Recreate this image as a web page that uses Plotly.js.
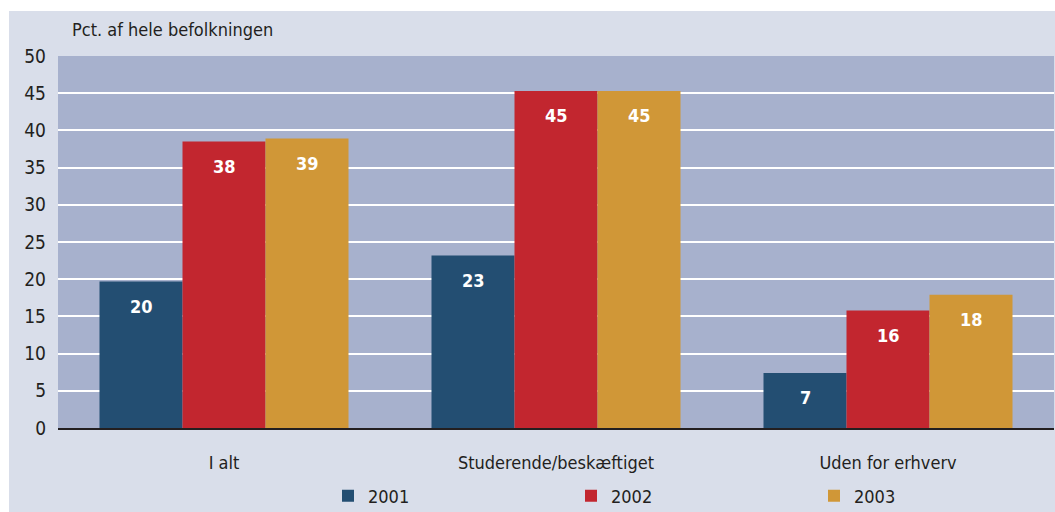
<!DOCTYPE html>
<html>
<head>
<meta charset="utf-8">
<script src="https://cdn.plot.ly/plotly-3.0.1.min.js"></script>
<style>
  html, body { margin: 0; padding: 0; background: #ffffff; }
  #chart { position: absolute; left: 9px; top: 11px; width: 1046px; height: 501px; }
</style>
</head>
<body>
<div id="chart"></div>
<script>
const categories = ["I alt", "Studerende/beskæftiget", "Uden for erhverv"];
const years = ["2001", "2002", "2003"];
const values2001 = [19.7, 23.2, 7.4];
const values2002 = [38.5, 45.3, 15.8];
const values2003 = [38.9, 45.3, 17.9];
const labels2001 = ["20", "23", "7"];
const labels2002 = ["38", "45", "16"];
const labels2003 = ["39", "45", "18"];
const yTicks = [0, 5, 10, 15, 20, 25, 30, 35, 40, 45, 50];
const colors = ["#234e72", "#c2262f", "#d09737"];

const FONT = '"Liberation Sans Narrow", "DejaVu Sans Condensed", "Roboto Condensed", Roboto, sans-serif';
const series = [values2001, values2002, values2003];
const labels = [labels2001, labels2002, labels2003];
const BARGAP = 0.25;
const barW = (1 - BARGAP) / years.length;

const traces = years.map((yr, i) => ({
  type: "bar",
  name: yr,
  x: categories,
  y: series[i],
  marker: { color: colors[i], line: { width: 0 } },
  hoverinfo: "skip"
}));

const annotations = [];
years.forEach((yr, i) => {
  categories.forEach((c, j) => {
    annotations.push({
      x: j + (i - (years.length - 1) / 2) * barW,
      y: series[i][j],
      xref: "x", yref: "y",
      text: labels[i][j],
      showarrow: false,
      yanchor: "middle",
      yshift: -25,
      font: { family: FONT, size: 18, color: "#ffffff", weight: "bold" }
    });
  });
});

const layout = {
  width: 1046,
  height: 501,
  margin: { l: 49, r: 1, t: 45, b: 84, pad: 0 },
  paper_bgcolor: "#d9deea",
  plot_bgcolor: "#a7b1cd",
  font: { family: FONT, size: 18, color: "#231f20" },
  barmode: "group",
  bargap: BARGAP,
  bargroupgap: 0,
  title: {
    text: "Pct. af hele befolkningen",
    x: 63 / 1046, xref: "container", xanchor: "left",
    y: 1 - 19 / 501, yref: "container", yanchor: "middle",
    font: { family: FONT, size: 18, color: "#231f20" }
  },
  annotations: annotations,
  xaxis: {
    type: "category",
    range: [-0.5, 2.5],
    showgrid: false,
    showline: true,
    linecolor: "#231f20",
    linewidth: 2,
    ticks: "",
    ticklabelstandoff: 17,
    tickfont: { family: FONT, size: 18, color: "#231f20" },
    fixedrange: true
  },
  yaxis: {
    range: [0, 50],
    tickvals: yTicks,
    ticktext: yTicks.map(String),
    showgrid: true,
    gridcolor: "#ffffff",
    gridwidth: 2,
    zeroline: false,
    showline: false,
    ticks: "",
    ticklabelstandoff: 11,
    tickfont: { family: FONT, size: 19, color: "#231f20" },
    fixedrange: true
  },
  showlegend: true,
  legend: {
    orientation: "h",
    xref: "container", yref: "container",
    x: (328 - 9) / 1046, xanchor: "left",
    y: 1 - (496 - 11) / 501, yanchor: "middle",
    entrywidth: 198, entrywidthmode: "pixels",
    bgcolor: "rgba(0,0,0,0)",
    font: { family: FONT, size: 18, color: "#231f20" },
    traceorder: "normal"
  }
};

Plotly.newPlot("chart", traces, layout, { displayModeBar: false, staticPlot: true });
</script>
</body>
</html>
